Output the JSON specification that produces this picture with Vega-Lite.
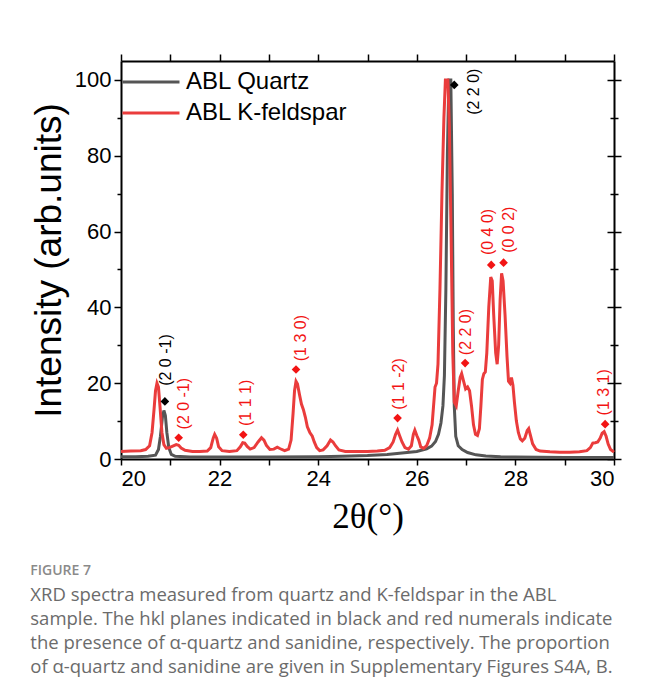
{
  "$schema": "https://vega.github.io/schema/vega-lite/v6.json",
  "width": 493,
  "height": 398,
  "padding": {"left": 30, "top": 53, "right": 28, "bottom": 10},
  "background": "white",
  "title": {
    "text": "FIGURE 7",
    "subtitle": [
      "XRD spectra measured from quartz and K-feldspar in the ABL",
      "sample. The hkl planes indicated in black and red numerals indicate",
      "the presence of α-quartz and sanidine, respectively. The proportion",
      "of α-quartz and sanidine are given in Supplementary Figures S4A, B."
    ],
    "orient": "bottom",
    "anchor": "start",
    "frame": "bounds",
    "offset": 30,
    "font": "Open Sans",
    "fontSize": 14,
    "fontWeight": 600,
    "color": "#8a8a8a",
    "subtitleFont": "Open Sans",
    "subtitleFontSize": 18.5,
    "subtitleColor": "#6b6b6b",
    "subtitleLineHeight": 24,
    "subtitlePadding": 8
  },
  "config": {
    "view": {"stroke": null},
    "axis": {
      "labelFont": "Liberation Sans",
      "labelFontSize": 22,
      "labelColor": "#000000",
      "titleFont": "Liberation Sans",
      "titleColor": "#000000",
      "titleFontWeight": "normal",
      "domainColor": "#000000",
      "domainWidth": 2,
      "tickColor": "#000000",
      "tickWidth": 1.5,
      "grid": false
    }
  },
  "resolve": {"axis": {"x": "independent", "y": "independent"}},
  "datasets": {
    "spectra": [
      {"series": "ABL Quartz", "theta": 20.0, "intensity": 0.6},
      {"series": "ABL Quartz", "theta": 20.3, "intensity": 0.6},
      {"series": "ABL Quartz", "theta": 20.55, "intensity": 0.7},
      {"series": "ABL Quartz", "theta": 20.7, "intensity": 1.0},
      {"series": "ABL Quartz", "theta": 20.76, "intensity": 2.5},
      {"series": "ABL Quartz", "theta": 20.8, "intensity": 6},
      {"series": "ABL Quartz", "theta": 20.84, "intensity": 11},
      {"series": "ABL Quartz", "theta": 20.87, "intensity": 12.8},
      {"series": "ABL Quartz", "theta": 20.9, "intensity": 11.5},
      {"series": "ABL Quartz", "theta": 20.93, "intensity": 7},
      {"series": "ABL Quartz", "theta": 20.97, "intensity": 3},
      {"series": "ABL Quartz", "theta": 21.02, "intensity": 1.2},
      {"series": "ABL Quartz", "theta": 21.1, "intensity": 0.7},
      {"series": "ABL Quartz", "theta": 21.4, "intensity": 0.5},
      {"series": "ABL Quartz", "theta": 22.0, "intensity": 0.5},
      {"series": "ABL Quartz", "theta": 23.0, "intensity": 0.5},
      {"series": "ABL Quartz", "theta": 24.0, "intensity": 0.6},
      {"series": "ABL Quartz", "theta": 24.5, "intensity": 0.7},
      {"series": "ABL Quartz", "theta": 25.0, "intensity": 0.9},
      {"series": "ABL Quartz", "theta": 25.4, "intensity": 1.2},
      {"series": "ABL Quartz", "theta": 25.7, "intensity": 1.6},
      {"series": "ABL Quartz", "theta": 26.0, "intensity": 2.0},
      {"series": "ABL Quartz", "theta": 26.2, "intensity": 2.7},
      {"series": "ABL Quartz", "theta": 26.3, "intensity": 3.4},
      {"series": "ABL Quartz", "theta": 26.38, "intensity": 4.6},
      {"series": "ABL Quartz", "theta": 26.44, "intensity": 6.5},
      {"series": "ABL Quartz", "theta": 26.49, "intensity": 9.5},
      {"series": "ABL Quartz", "theta": 26.53, "intensity": 14},
      {"series": "ABL Quartz", "theta": 26.56, "intensity": 22},
      {"series": "ABL Quartz", "theta": 26.59, "intensity": 45},
      {"series": "ABL Quartz", "theta": 26.62, "intensity": 80},
      {"series": "ABL Quartz", "theta": 26.65, "intensity": 100},
      {"series": "ABL Quartz", "theta": 26.69, "intensity": 100},
      {"series": "ABL Quartz", "theta": 26.72, "intensity": 70},
      {"series": "ABL Quartz", "theta": 26.74, "intensity": 35},
      {"series": "ABL Quartz", "theta": 26.76, "intensity": 14},
      {"series": "ABL Quartz", "theta": 26.79, "intensity": 6},
      {"series": "ABL Quartz", "theta": 26.84, "intensity": 3.5},
      {"series": "ABL Quartz", "theta": 26.92, "intensity": 2.5},
      {"series": "ABL Quartz", "theta": 27.03, "intensity": 1.7},
      {"series": "ABL Quartz", "theta": 27.2, "intensity": 1.1},
      {"series": "ABL Quartz", "theta": 27.4, "intensity": 0.8},
      {"series": "ABL Quartz", "theta": 27.7, "intensity": 0.6},
      {"series": "ABL Quartz", "theta": 28.0, "intensity": 0.5},
      {"series": "ABL Quartz", "theta": 29.0, "intensity": 0.4},
      {"series": "ABL Quartz", "theta": 30.0, "intensity": 0.4},

      {"series": "ABL K-feldspar", "theta": 20.0, "intensity": 2.0},
      {"series": "ABL K-feldspar", "theta": 20.2, "intensity": 2.1},
      {"series": "ABL K-feldspar", "theta": 20.4, "intensity": 2.2},
      {"series": "ABL K-feldspar", "theta": 20.5, "intensity": 2.5},
      {"series": "ABL K-feldspar", "theta": 20.58, "intensity": 3.5},
      {"series": "ABL K-feldspar", "theta": 20.63, "intensity": 7},
      {"series": "ABL K-feldspar", "theta": 20.67, "intensity": 13},
      {"series": "ABL K-feldspar", "theta": 20.7, "intensity": 18},
      {"series": "ABL K-feldspar", "theta": 20.73, "intensity": 20},
      {"series": "ABL K-feldspar", "theta": 20.76, "intensity": 19},
      {"series": "ABL K-feldspar", "theta": 20.79, "intensity": 14},
      {"series": "ABL K-feldspar", "theta": 20.83, "intensity": 7},
      {"series": "ABL K-feldspar", "theta": 20.87, "intensity": 3.8},
      {"series": "ABL K-feldspar", "theta": 20.92, "intensity": 2.8},
      {"series": "ABL K-feldspar", "theta": 20.98, "intensity": 3.0},
      {"series": "ABL K-feldspar", "theta": 21.05, "intensity": 3.4},
      {"series": "ABL K-feldspar", "theta": 21.12, "intensity": 3.8},
      {"series": "ABL K-feldspar", "theta": 21.17, "intensity": 3.6},
      {"series": "ABL K-feldspar", "theta": 21.22, "intensity": 2.9},
      {"series": "ABL K-feldspar", "theta": 21.3, "intensity": 2.3},
      {"series": "ABL K-feldspar", "theta": 21.45, "intensity": 2.0},
      {"series": "ABL K-feldspar", "theta": 21.6, "intensity": 2.0},
      {"series": "ABL K-feldspar", "theta": 21.75, "intensity": 2.1},
      {"series": "ABL K-feldspar", "theta": 21.82, "intensity": 3.0},
      {"series": "ABL K-feldspar", "theta": 21.87, "intensity": 5.5},
      {"series": "ABL K-feldspar", "theta": 21.9, "intensity": 6.5},
      {"series": "ABL K-feldspar", "theta": 21.94, "intensity": 5.5},
      {"series": "ABL K-feldspar", "theta": 21.98, "intensity": 3.2},
      {"series": "ABL K-feldspar", "theta": 22.05, "intensity": 2.2},
      {"series": "ABL K-feldspar", "theta": 22.2, "intensity": 2.0},
      {"series": "ABL K-feldspar", "theta": 22.35, "intensity": 2.2},
      {"series": "ABL K-feldspar", "theta": 22.42, "intensity": 3.2},
      {"series": "ABL K-feldspar", "theta": 22.47, "intensity": 4.3},
      {"series": "ABL K-feldspar", "theta": 22.51, "intensity": 4.2},
      {"series": "ABL K-feldspar", "theta": 22.56, "intensity": 3.3},
      {"series": "ABL K-feldspar", "theta": 22.62, "intensity": 2.6},
      {"series": "ABL K-feldspar", "theta": 22.7, "intensity": 3.0},
      {"series": "ABL K-feldspar", "theta": 22.78, "intensity": 4.5},
      {"series": "ABL K-feldspar", "theta": 22.85, "intensity": 5.6},
      {"series": "ABL K-feldspar", "theta": 22.9, "intensity": 5.0},
      {"series": "ABL K-feldspar", "theta": 22.95, "intensity": 3.6},
      {"series": "ABL K-feldspar", "theta": 23.02, "intensity": 2.5},
      {"series": "ABL K-feldspar", "theta": 23.1, "intensity": 2.6},
      {"series": "ABL K-feldspar", "theta": 23.17, "intensity": 3.1},
      {"series": "ABL K-feldspar", "theta": 23.23, "intensity": 2.7},
      {"series": "ABL K-feldspar", "theta": 23.32, "intensity": 2.2},
      {"series": "ABL K-feldspar", "theta": 23.4, "intensity": 2.6},
      {"series": "ABL K-feldspar", "theta": 23.45, "intensity": 5},
      {"series": "ABL K-feldspar", "theta": 23.49, "intensity": 12},
      {"series": "ABL K-feldspar", "theta": 23.52, "intensity": 18},
      {"series": "ABL K-feldspar", "theta": 23.55, "intensity": 20.5},
      {"series": "ABL K-feldspar", "theta": 23.58, "intensity": 19.8},
      {"series": "ABL K-feldspar", "theta": 23.62, "intensity": 17},
      {"series": "ABL K-feldspar", "theta": 23.66, "intensity": 14.5},
      {"series": "ABL K-feldspar", "theta": 23.7, "intensity": 13.0},
      {"series": "ABL K-feldspar", "theta": 23.74, "intensity": 11},
      {"series": "ABL K-feldspar", "theta": 23.78, "intensity": 8.5},
      {"series": "ABL K-feldspar", "theta": 23.83, "intensity": 7},
      {"series": "ABL K-feldspar", "theta": 23.88, "intensity": 6},
      {"series": "ABL K-feldspar", "theta": 23.92, "intensity": 4.5},
      {"series": "ABL K-feldspar", "theta": 23.97, "intensity": 3.0},
      {"series": "ABL K-feldspar", "theta": 24.03, "intensity": 2.2},
      {"series": "ABL K-feldspar", "theta": 24.1, "intensity": 2.4},
      {"series": "ABL K-feldspar", "theta": 24.18, "intensity": 3.5},
      {"series": "ABL K-feldspar", "theta": 24.25, "intensity": 5.0},
      {"series": "ABL K-feldspar", "theta": 24.3, "intensity": 4.5},
      {"series": "ABL K-feldspar", "theta": 24.35, "intensity": 3.5},
      {"series": "ABL K-feldspar", "theta": 24.42, "intensity": 2.4},
      {"series": "ABL K-feldspar", "theta": 24.55, "intensity": 2.0},
      {"series": "ABL K-feldspar", "theta": 24.8, "intensity": 2.0},
      {"series": "ABL K-feldspar", "theta": 25.0, "intensity": 2.0},
      {"series": "ABL K-feldspar", "theta": 25.2, "intensity": 2.1},
      {"series": "ABL K-feldspar", "theta": 25.35, "intensity": 2.3},
      {"series": "ABL K-feldspar", "theta": 25.45, "intensity": 3.0},
      {"series": "ABL K-feldspar", "theta": 25.52, "intensity": 4.5},
      {"series": "ABL K-feldspar", "theta": 25.57, "intensity": 6.5},
      {"series": "ABL K-feldspar", "theta": 25.61, "intensity": 7.6},
      {"series": "ABL K-feldspar", "theta": 25.65, "intensity": 6.2},
      {"series": "ABL K-feldspar", "theta": 25.7, "intensity": 4.5},
      {"series": "ABL K-feldspar", "theta": 25.76, "intensity": 3.0},
      {"series": "ABL K-feldspar", "theta": 25.83, "intensity": 2.6},
      {"series": "ABL K-feldspar", "theta": 25.89, "intensity": 3.5},
      {"series": "ABL K-feldspar", "theta": 25.93, "intensity": 6.5},
      {"series": "ABL K-feldspar", "theta": 25.96, "intensity": 7.6},
      {"series": "ABL K-feldspar", "theta": 26.0, "intensity": 6.2},
      {"series": "ABL K-feldspar", "theta": 26.04, "intensity": 5.0},
      {"series": "ABL K-feldspar", "theta": 26.08, "intensity": 3.2},
      {"series": "ABL K-feldspar", "theta": 26.14, "intensity": 2.8},
      {"series": "ABL K-feldspar", "theta": 26.2, "intensity": 3.5},
      {"series": "ABL K-feldspar", "theta": 26.26, "intensity": 5.5},
      {"series": "ABL K-feldspar", "theta": 26.31, "intensity": 9},
      {"series": "ABL K-feldspar", "theta": 26.34, "intensity": 14},
      {"series": "ABL K-feldspar", "theta": 26.37, "intensity": 19},
      {"series": "ABL K-feldspar", "theta": 26.4, "intensity": 20},
      {"series": "ABL K-feldspar", "theta": 26.43, "intensity": 25},
      {"series": "ABL K-feldspar", "theta": 26.47, "intensity": 45},
      {"series": "ABL K-feldspar", "theta": 26.51, "intensity": 70},
      {"series": "ABL K-feldspar", "theta": 26.55, "intensity": 90},
      {"series": "ABL K-feldspar", "theta": 26.58, "intensity": 100},
      {"series": "ABL K-feldspar", "theta": 26.63, "intensity": 100},
      {"series": "ABL K-feldspar", "theta": 26.66, "intensity": 88},
      {"series": "ABL K-feldspar", "theta": 26.7, "intensity": 55},
      {"series": "ABL K-feldspar", "theta": 26.73, "intensity": 28},
      {"series": "ABL K-feldspar", "theta": 26.76, "intensity": 15},
      {"series": "ABL K-feldspar", "theta": 26.8, "intensity": 14},
      {"series": "ABL K-feldspar", "theta": 26.84, "intensity": 18},
      {"series": "ABL K-feldspar", "theta": 26.88, "intensity": 21.5},
      {"series": "ABL K-feldspar", "theta": 26.91, "intensity": 22.5},
      {"series": "ABL K-feldspar", "theta": 26.95, "intensity": 20.5},
      {"series": "ABL K-feldspar", "theta": 26.99, "intensity": 18.5},
      {"series": "ABL K-feldspar", "theta": 27.03, "intensity": 19.0},
      {"series": "ABL K-feldspar", "theta": 27.07, "intensity": 18},
      {"series": "ABL K-feldspar", "theta": 27.11, "intensity": 14},
      {"series": "ABL K-feldspar", "theta": 27.15, "intensity": 9},
      {"series": "ABL K-feldspar", "theta": 27.19, "intensity": 6.5},
      {"series": "ABL K-feldspar", "theta": 27.23, "intensity": 6.2},
      {"series": "ABL K-feldspar", "theta": 27.27, "intensity": 8},
      {"series": "ABL K-feldspar", "theta": 27.3, "intensity": 14},
      {"series": "ABL K-feldspar", "theta": 27.33, "intensity": 21},
      {"series": "ABL K-feldspar", "theta": 27.36, "intensity": 22.5},
      {"series": "ABL K-feldspar", "theta": 27.39, "intensity": 23},
      {"series": "ABL K-feldspar", "theta": 27.42, "intensity": 28},
      {"series": "ABL K-feldspar", "theta": 27.46, "intensity": 40},
      {"series": "ABL K-feldspar", "theta": 27.5, "intensity": 48},
      {"series": "ABL K-feldspar", "theta": 27.53, "intensity": 47},
      {"series": "ABL K-feldspar", "theta": 27.56, "intensity": 38},
      {"series": "ABL K-feldspar", "theta": 27.6, "intensity": 28},
      {"series": "ABL K-feldspar", "theta": 27.63, "intensity": 25},
      {"series": "ABL K-feldspar", "theta": 27.66, "intensity": 30},
      {"series": "ABL K-feldspar", "theta": 27.69, "intensity": 42},
      {"series": "ABL K-feldspar", "theta": 27.72, "intensity": 49},
      {"series": "ABL K-feldspar", "theta": 27.75, "intensity": 47},
      {"series": "ABL K-feldspar", "theta": 27.79, "intensity": 38},
      {"series": "ABL K-feldspar", "theta": 27.83, "intensity": 27},
      {"series": "ABL K-feldspar", "theta": 27.86, "intensity": 20.5},
      {"series": "ABL K-feldspar", "theta": 27.89, "intensity": 20},
      {"series": "ABL K-feldspar", "theta": 27.92, "intensity": 21.5},
      {"series": "ABL K-feldspar", "theta": 27.95, "intensity": 19.5},
      {"series": "ABL K-feldspar", "theta": 27.98, "intensity": 15},
      {"series": "ABL K-feldspar", "theta": 28.02, "intensity": 10},
      {"series": "ABL K-feldspar", "theta": 28.06, "intensity": 7},
      {"series": "ABL K-feldspar", "theta": 28.1, "intensity": 5.3},
      {"series": "ABL K-feldspar", "theta": 28.14, "intensity": 4.8},
      {"series": "ABL K-feldspar", "theta": 28.19, "intensity": 5.5},
      {"series": "ABL K-feldspar", "theta": 28.24, "intensity": 7.5},
      {"series": "ABL K-feldspar", "theta": 28.27, "intensity": 8.0},
      {"series": "ABL K-feldspar", "theta": 28.3, "intensity": 6.5},
      {"series": "ABL K-feldspar", "theta": 28.35, "intensity": 4.0},
      {"series": "ABL K-feldspar", "theta": 28.42, "intensity": 2.5},
      {"series": "ABL K-feldspar", "theta": 28.5, "intensity": 2.1},
      {"series": "ABL K-feldspar", "theta": 28.7, "intensity": 1.9},
      {"series": "ABL K-feldspar", "theta": 28.9, "intensity": 1.8},
      {"series": "ABL K-feldspar", "theta": 29.1, "intensity": 1.8},
      {"series": "ABL K-feldspar", "theta": 29.3, "intensity": 1.9},
      {"series": "ABL K-feldspar", "theta": 29.45, "intensity": 2.2},
      {"series": "ABL K-feldspar", "theta": 29.52, "intensity": 3.0},
      {"series": "ABL K-feldspar", "theta": 29.57, "intensity": 4.2},
      {"series": "ABL K-feldspar", "theta": 29.62, "intensity": 4.3},
      {"series": "ABL K-feldspar", "theta": 29.67, "intensity": 4.5},
      {"series": "ABL K-feldspar", "theta": 29.72, "intensity": 5.5},
      {"series": "ABL K-feldspar", "theta": 29.76, "intensity": 6.8},
      {"series": "ABL K-feldspar", "theta": 29.8, "intensity": 7.2},
      {"series": "ABL K-feldspar", "theta": 29.84, "intensity": 6.0},
      {"series": "ABL K-feldspar", "theta": 29.88, "intensity": 4.0},
      {"series": "ABL K-feldspar", "theta": 29.93, "intensity": 2.5},
      {"series": "ABL K-feldspar", "theta": 30.0, "intensity": 1.8}
    ],
    "peaks": [
      {"phase": "α-quartz", "hkl": "(2 0 -1)", "theta": 20.89, "intensity": 15.2, "label_theta": 20.91, "label_intensity": 19.3},
      {"phase": "α-quartz", "hkl": "(2 2 0)", "theta": 26.76, "intensity": 98.7, "label_theta": 27.17, "label_intensity": 90.8},
      {"phase": "sanidine", "hkl": "(2 0 -1)", "theta": 21.17, "intensity": 5.6, "label_theta": 21.27, "label_intensity": 7.8},
      {"phase": "sanidine", "hkl": "(1 1 1)", "theta": 22.48, "intensity": 6.4, "label_theta": 22.53, "label_intensity": 8.7},
      {"phase": "sanidine", "hkl": "(1 3 0)", "theta": 23.55, "intensity": 23.6, "label_theta": 23.65, "label_intensity": 25.8},
      {"phase": "sanidine", "hkl": "(1 1 -2)", "theta": 25.61, "intensity": 10.8, "label_theta": 25.63, "label_intensity": 13.0},
      {"phase": "sanidine", "hkl": "(2 2 0)", "theta": 26.98, "intensity": 25.3, "label_theta": 27.0, "label_intensity": 27.4},
      {"phase": "sanidine", "hkl": "(0 4 0)", "theta": 27.51, "intensity": 51.2, "label_theta": 27.44, "label_intensity": 53.8},
      {"phase": "sanidine", "hkl": "(0 0 2)", "theta": 27.76, "intensity": 51.8, "label_theta": 27.87, "label_intensity": 54.4},
      {"phase": "sanidine", "hkl": "(1 3 1)", "theta": 29.82, "intensity": 9.2, "label_theta": 29.8, "label_intensity": 11.5}
    ]
  },
  "layer": [
    {
      "data": {"name": "spectra"},
      "transform": [{"filter": "datum.series === 'ABL Quartz'"}],
      "mark": {"type": "line", "strokeWidth": 3},
      "encoding": {
        "x": {
          "field": "theta", "type": "quantitative",
          "scale": {"domain": [20, 30], "nice": false, "zero": false},
          "axis": {"orient": "top", "values": [20, 21, 22, 23, 24, 25, 26, 27, 28, 29, 30], "labels": false, "title": null, "tickSize": 7}
        },
        "y": {
          "field": "intensity", "type": "quantitative",
          "scale": {"domain": [0, 105], "nice": false},
          "axis": {"orient": "right", "values": [0, 10, 20, 30, 40, 50, 60, 70, 80, 90, 100], "labels": false, "title": null,
            "tickSize": {"condition": {"test": "datum.value % 20 == 0", "value": 7}, "value": 4}}
        },
        "stroke": {
          "field": "series", "type": "nominal",
          "scale": {"domain": ["ABL Quartz", "ABL K-feldspar"], "range": ["#555555", "#ea3c3c"]},
          "legend": {
            "orient": "none", "legendX": 14, "legendY": 5, "title": null, "padding": 0,
            "symbolType": "M-2,0H2", "symbolSize": 812, "symbolStrokeWidth": 3,
            "labelFont": "Liberation Sans", "labelFontSize": 24, "labelColor": "#000000", "labelLimit": 0,
            "labelOffset": 19, "rowPadding": 3
          }
        }
      }
    },
    {
      "data": {"name": "spectra"},
      "transform": [{"filter": "datum.series === 'ABL K-feldspar'"}],
      "mark": {"type": "line", "strokeWidth": 3},
      "encoding": {
        "x": {
          "field": "theta", "type": "quantitative",
          "axis": {"orient": "bottom", "values": [20, 21, 22, 23, 24, 25, 26, 27, 28, 29, 30],
            "labelExpr": "datum.value % 2 == 0 ? datum.label : ''",
            "title": "2θ(°)", "titleFont": "Liberation Serif", "titleFontSize": 35, "titlePadding": 10,
            "tickSize": 6, "labelPadding": 3}
        },
        "y": {
          "field": "intensity", "type": "quantitative",
          "axis": {"orient": "left", "values": [0, 10, 20, 30, 40, 50, 60, 70, 80, 90, 100],
            "labelExpr": "datum.value % 20 == 0 ? datum.label : ''",
            "title": "Intensity (arb.units)", "titleFontSize": 37, "titlePadding": 6,
            "tickSize": {"condition": {"test": "datum.value % 20 == 0", "value": 7}, "value": 4}, "labelPadding": 3}
        },
        "stroke": {"field": "series", "type": "nominal"}
      }
    },
    {
      "data": {"name": "peaks"},
      "mark": {"type": "point", "shape": "diamond", "filled": true, "size": 75, "opacity": 1},
      "encoding": {
        "x": {"field": "theta", "type": "quantitative", "axis": null},
        "y": {
          "field": "intensity", "type": "quantitative",
          "axis": {"orient": "right", "values": [0, 10, 20, 30, 40, 50, 60, 70, 80, 90, 100], "labels": false, "title": null, "domain": false,
            "tickSize": {"condition": {"test": "datum.value % 20 == 0", "value": -7}, "value": -4}}
        },
        "fill": {
          "field": "phase", "type": "nominal",
          "scale": {"domain": ["α-quartz", "sanidine"], "range": ["#000000", "#f21414"]},
          "legend": null
        }
      }
    },
    {
      "data": {"name": "peaks"},
      "mark": {"type": "text", "angle": 270, "align": "left", "baseline": "middle", "font": "Liberation Sans", "fontSize": 16},
      "encoding": {
        "x": {"field": "label_theta", "type": "quantitative", "axis": null},
        "y": {"field": "label_intensity", "type": "quantitative", "axis": null},
        "text": {"field": "hkl"},
        "fill": {"field": "phase", "type": "nominal"}
      }
    }
  ]
}
